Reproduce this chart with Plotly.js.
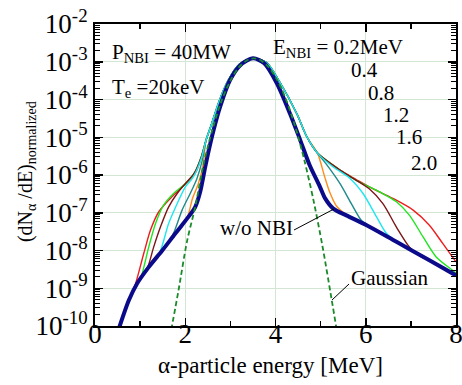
<!DOCTYPE html>
<html><head><meta charset="utf-8">
<script src="https://cdn.plot.ly/plotly-3.0.1.min.js"></script>
<style>html,body{margin:0;padding:0;background:#fff}#chart{width:462px;height:385px}</style>
</head><body><div id="chart"></div>
<script>
// ---- data (energy in MeV, values as log10 of dN/dE normalized) ----
const blueE   = [0.52, 0.75, 0.93, 1.19, 1.49, 1.78, 2.07, 2.22, 2.33, 2.44, 2.52, 2.63, 2.77, 2.99, 3.22, 3.5, 3.75, 4.03, 4.32, 4.54, 4.76, 4.98, 5.1, 5.28, 5.57, 6.02, 6.68, 7.41, 8.0];
const blueLog = [-10.1, -9.32, -8.88, -8.44, -8.0, -7.55, -7.11, -6.85, -6.45, -5.8, -5.35, -4.8, -4.2, -3.49, -3.09, -2.91, -3.04, -3.57, -4.37, -5.05, -5.75, -6.3, -6.62, -6.89, -7.07, -7.33, -7.77, -8.26, -8.66];

const gaussE   = [1.69, 1.85, 2.04, 2.22, 2.4, 2.6, 2.8, 3.0, 3.2, 3.4, 3.52, 3.64, 3.84, 4.04, 4.24, 4.44, 4.64, 4.84, 5.04, 5.24, 5.37];
const gaussLog = [-10.1, -9.06, -7.75, -6.85, -5.75, -4.8, -4.05, -3.5, -3.13, -2.94, -2.91, -2.94, -3.13, -3.49, -4.02, -4.73, -5.61, -6.66, -7.88, -9.27, -10.2];

// shared central part of the NBI curves
const coreE   = [2.46, 2.59, 2.75, 2.95, 3.2, 3.5, 3.8, 4.1, 4.47, 4.7, 4.93];
const coreLog = [-5.08, -4.63, -4.05, -3.5, -3.07, -2.91, -3.02, -3.55, -4.37, -5.0, -5.42];

const labelsNBI = ['0.2', '0.4', '0.8', '1.2', '1.6', '2.0'];

const leftE = {
  '0.2': [2.05, 2.16, 2.29, 2.40],
  '0.4': [1.72, 1.93, 2.11, 2.26, 2.38],
  '0.8': [1.42, 1.63, 1.82, 2.0, 2.18, 2.36],
  '1.2': [1.15, 1.30, 1.45, 1.63, 1.82, 2.0, 2.2, 2.36],
  '1.6': [1.0, 1.19, 1.34, 1.52, 1.74, 2.0, 2.2, 2.36],
  '2.0': [0.88, 1.08, 1.23, 1.41, 1.67, 1.93, 2.22, 2.38]
};
const leftLog = {
  '0.2': [-7.1, -6.62, -6.23, -5.70],
  '0.4': [-7.6, -6.93, -6.49, -6.09, -5.6],
  '0.8': [-8.1, -7.29, -6.76, -6.32, -6.05, -5.55],
  '1.2': [-8.5, -7.91, -7.38, -6.85, -6.49, -6.23, -5.95, -5.5],
  '1.6': [-8.78, -7.91, -7.29, -6.80, -6.49, -6.23, -5.95, -5.5],
  '2.0': [-8.95, -8.08, -7.46, -6.98, -6.62, -6.32, -5.96, -5.45]
};
const rightE = {
  '0.2': [5.09, 5.2, 5.35, 5.54],
  '0.4': [5.13, 5.43, 5.68, 5.9, 6.05],
  '0.8': [5.28, 5.65, 5.94, 6.24, 6.46, 6.68],
  '1.2': [5.43, 5.79, 6.09, 6.38, 6.68, 6.97, 7.23],
  '1.6': [5.43, 5.79, 6.31, 6.68, 6.97, 7.27, 7.56, 7.93, 8.0],
  '2.0': [5.43, 5.79, 6.1, 6.6, 7.05, 7.41, 7.71, 8.0]
};
const rightLog = {
  '0.2': [-6.05, -6.45, -6.82, -7.03],
  '0.4': [-5.72, -6.23, -6.76, -7.2, -7.34],
  '0.8': [-5.79, -6.09, -6.49, -7.11, -7.55, -7.77],
  '1.2': [-5.87, -6.14, -6.38, -6.76, -7.38, -7.91, -8.17],
  '1.6': [-5.87, -6.14, -6.45, -6.71, -7.07, -7.64, -8.17, -8.53, -8.6],
  '2.0': [-5.87, -6.12, -6.33, -6.62, -6.93, -7.33, -7.82, -8.3]
};
const colorsNBI = {'0.2': '#ff8c1a', '0.4': '#1f8a8a', '0.8': '#1ee6f0', '1.2': '#7a1518', '1.6': '#1ee61e', '2.0': '#ee1c1c'};

const yTickVals = [-10, -9, -8, -7, -6, -5, -4, -3, -2];
const xTickVals = [0, 2, 4, 6, 8];

// ---- build ----
const pw = v => Math.pow(10, v);
function buildCurve(k) {
  const x = [], y = [];
  const lE = leftE[k], rE = rightE[k];
  for (let i = 0; i < blueE.length; i++) if (blueE[i] < lE[0] - 0.05) { x.push(blueE[i]); y.push(blueLog[i]); }
  x.push(...lE); y.push(...leftLog[k]);
  x.push(...coreE); y.push(...coreLog);
  x.push(...rE); y.push(...rightLog[k]);
  const last = rE[rE.length - 1];
  for (let i = 0; i < blueE.length; i++) if (blueE[i] > last + 0.05) { x.push(blueE[i]); y.push(blueLog[i]); }
  return {x, y: y.map(pw)};
}

const traces = [];
['0.2', '2.0', '1.6', '1.2', '0.4', '0.8'].forEach(k => {
  const c = buildCurve(k);
  traces.push({x: c.x, y: c.y, type: 'scatter', mode: 'lines', line: {color: colorsNBI[k], width: 1.4, shape: 'spline', smoothing: 0.8}, hoverinfo: 'skip'});
});
traces.push({x: blueE, y: blueLog.map(pw), type: 'scatter', mode: 'lines', line: {color: '#0b0a8a', width: 4, shape: 'spline', smoothing: 0.8}, hoverinfo: 'skip'});
traces.push({x: gaussE, y: gaussLog.map(pw), type: 'scatter', mode: 'lines', line: {color: '#1a8a2a', width: 1.8, dash: '5px,3px', shape: 'spline', smoothing: 0.8}, hoverinfo: 'skip'});

const minorY = [];
for (let d = -10; d < -2; d++) for (let m = 2; m <= 9; m++) minorY.push(m * Math.pow(10, d));

const FONT = '"Liberation Serif", serif';
const sup = s => '10<sup>' + s + '</sup>';
const sub = s => '<sub>' + s + '</sub>';

const ann = (text, x, y, extra) => Object.assign({text, x, y: y, xref: 'x', yref: 'y', xanchor: 'left', yanchor: 'middle', showarrow: false, font: {family: FONT, size: 21, color: '#000'}}, extra || {});

const layout = {
  width: 462, height: 385,
  margin: {l: 95, r: 6, t: 24, b: 59},
  paper_bgcolor: '#fff', plot_bgcolor: '#fff',
  showlegend: false,
  xaxis: {
    range: [0, 8], tickvals: xTickVals, ticktext: xTickVals.map(String),
    ticks: 'inside', ticklen: 8, tickwidth: 1.5, tickcolor: '#000',
    mirror: 'allticks', showline: true, linewidth: 2, linecolor: '#000',
    showgrid: true, gridcolor: '#d3e6d3', gridwidth: 1, zeroline: false,
    tickfont: {family: FONT, size: 27, color: '#000'},
    ticklabeloverflow: 'allow', ticklabelstandoff: -17,
    minor: {dtick: 1, tick0: 0, ticks: 'inside', ticklen: 5, tickwidth: 1.3, tickcolor: '#000', showgrid: false}
  },
  yaxis: {
    type: 'log', range: [-10, -2],
    tickvals: yTickVals.map(pw), ticktext: yTickVals.map(v => sup(String(v))),
    ticks: 'inside', ticklen: 8, tickwidth: 1.5, tickcolor: '#000',
    mirror: 'allticks', showline: true, linewidth: 2, linecolor: '#000',
    showgrid: true, gridcolor: '#d3e6d3', gridwidth: 1, zeroline: false,
    tickfont: {family: FONT, size: 27, color: '#000'},
    ticklabeloverflow: 'allow',
    minor: {tickvals: minorY, ticks: 'inside', ticklen: 5, tickwidth: 1, tickcolor: '#000', showgrid: false}
  },
  annotations: [
    ann('P' + sub('NBI') + ' = 40MW', 0.34, -2.77),
    ann('T' + sub('e') + ' =20keV', 0.34, -3.70),
    ann('E' + sub('NBI') + ' = 0.2MeV', 3.90, -2.64),
    ann('0.4', 5.62, -3.22),
    ann('0.8', 6.0, -3.82),
    ann('1.2', 6.33, -4.41),
    ann('1.6', 6.62, -4.98),
    ann('2.0', 6.95, -5.67),
    ann('w/o NBI', 2.73, -7.41),
    ann('Gaussian', 5.62, -8.74),
    {text: 'α-particle energy [MeV]', x: 0.4875, y: -0.132, xref: 'paper', yref: 'paper', xanchor: 'center', yanchor: 'middle', showarrow: false, font: {family: FONT, size: 23, color: '#000'}},
    {text: '(dN' + sub('α') + ' /dE)' + sub('normalized'), x: -0.188, y: 0.51, xref: 'paper', yref: 'paper', xanchor: 'center', yanchor: 'middle', textangle: -90, showarrow: false, font: {family: FONT, size: 20, color: '#000'}}
  ],
  shapes: [
    {type: 'line', xref: 'paper', yref: 'paper', x0: (294 - 95) / 361, y0: (326 - 230) / 302, x1: (334 - 95) / 361, y1: (326 - 209) / 302, line: {color: '#000', width: 1}},
    {type: 'line', xref: 'paper', yref: 'paper', x0: (332 - 95) / 361, y0: (326 - 300) / 302, x1: (349 - 95) / 361, y1: (326 - 284) / 302, line: {color: '#000', width: 1}}
  ]
};

Plotly.newPlot('chart', traces, layout, {staticPlot: true, displayModeBar: false});
</script>
</body></html>
